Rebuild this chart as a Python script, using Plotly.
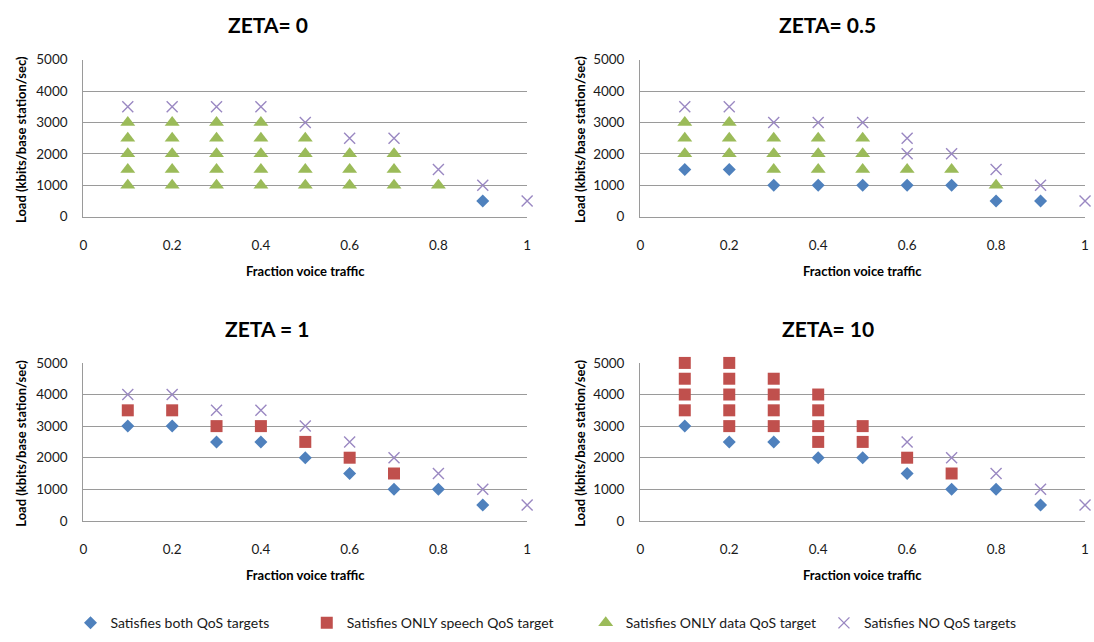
import plotly.graph_objects as go

W, H = 1094, 642

# ---- axis ticks and labels ----
x_ticks = [0, 0.2, 0.4, 0.6, 0.8, 1]
x_tick_text = ["0", "0.2", "0.4", "0.6", "0.8", "1"]
y_ticks = [0, 1000, 2000, 3000, 4000, 5000]
y_tick_text = ["0", "1000", "2000", "3000", "4000", "5000"]

panel_titles = ["ZETA= 0", "ZETA= 0.5", "ZETA = 1", "ZETA= 10"]
series_names = [
    "Satisfies both QoS targets",
    "Satisfies ONLY speech QoS target",
    "Satisfies ONLY data QoS target",
    "Satisfies NO QoS targets",
]

# ---- ZETA = 0 ----
z0_both_x = [0.9]
z0_both_y = [500]
z0_speech_x = []
z0_speech_y = []
z0_data_x = [0.1, 0.1, 0.1, 0.1, 0.1,
             0.2, 0.2, 0.2, 0.2, 0.2,
             0.3, 0.3, 0.3, 0.3, 0.3,
             0.4, 0.4, 0.4, 0.4, 0.4,
             0.5, 0.5, 0.5, 0.5,
             0.6, 0.6, 0.6,
             0.7, 0.7, 0.7,
             0.8]
z0_data_y = [1000, 1500, 2000, 2500, 3000,
             1000, 1500, 2000, 2500, 3000,
             1000, 1500, 2000, 2500, 3000,
             1000, 1500, 2000, 2500, 3000,
             1000, 1500, 2000, 2500,
             1000, 1500, 2000,
             1000, 1500, 2000,
             1000]
z0_none_x = [0.1, 0.2, 0.3, 0.4, 0.5, 0.6, 0.7, 0.8, 0.9, 1.0]
z0_none_y = [3500, 3500, 3500, 3500, 3000, 2500, 2500, 1500, 1000, 500]

# ---- ZETA = 0.5 ----
z05_both_x = [0.1, 0.2, 0.3, 0.4, 0.5, 0.6, 0.7, 0.8, 0.9]
z05_both_y = [1500, 1500, 1000, 1000, 1000, 1000, 1000, 500, 500]
z05_speech_x = []
z05_speech_y = []
z05_data_x = [0.1, 0.1, 0.1,
              0.2, 0.2, 0.2,
              0.3, 0.3, 0.3,
              0.4, 0.4, 0.4,
              0.5, 0.5, 0.5,
              0.6, 0.7, 0.8]
z05_data_y = [2000, 2500, 3000,
              2000, 2500, 3000,
              1500, 2000, 2500,
              1500, 2000, 2500,
              1500, 2000, 2500,
              1500, 1500, 1000]
z05_none_x = [0.1, 0.2, 0.3, 0.4, 0.5, 0.6, 0.6, 0.7, 0.8, 0.9, 1.0]
z05_none_y = [3500, 3500, 3000, 3000, 3000, 2500, 2000, 2000, 1500, 1000, 500]

# ---- ZETA = 1 ----
z1_both_x = [0.1, 0.2, 0.3, 0.4, 0.5, 0.6, 0.7, 0.8, 0.9]
z1_both_y = [3000, 3000, 2500, 2500, 2000, 1500, 1000, 1000, 500]
z1_speech_x = [0.1, 0.2, 0.3, 0.4, 0.5, 0.6, 0.7]
z1_speech_y = [3500, 3500, 3000, 3000, 2500, 2000, 1500]
z1_data_x = []
z1_data_y = []
z1_none_x = [0.1, 0.2, 0.3, 0.4, 0.5, 0.6, 0.7, 0.8, 0.9, 1.0]
z1_none_y = [4000, 4000, 3500, 3500, 3000, 2500, 2000, 1500, 1000, 500]

# ---- ZETA = 10 ----
z10_both_x = [0.1, 0.2, 0.3, 0.4, 0.5, 0.6, 0.7, 0.8, 0.9]
z10_both_y = [3000, 2500, 2500, 2000, 2000, 1500, 1000, 1000, 500]
z10_speech_x = [0.1, 0.1, 0.1, 0.1,
                0.2, 0.2, 0.2, 0.2, 0.2,
                0.3, 0.3, 0.3, 0.3,
                0.4, 0.4, 0.4, 0.4,
                0.5, 0.5,
                0.6, 0.7]
z10_speech_y = [3500, 4000, 4500, 5000,
                3000, 3500, 4000, 4500, 5000,
                3000, 3500, 4000, 4500,
                2500, 3000, 3500, 4000,
                2500, 3000,
                2000, 1500]
z10_data_x = []
z10_data_y = []
z10_none_x = [0.6, 0.7, 0.8, 0.9, 1.0]
z10_none_y = [2500, 2000, 1500, 1000, 500]

panels = [
    [(z0_both_x, z0_both_y), (z0_speech_x, z0_speech_y), (z0_data_x, z0_data_y), (z0_none_x, z0_none_y)],
    [(z05_both_x, z05_both_y), (z05_speech_x, z05_speech_y), (z05_data_x, z05_data_y), (z05_none_x, z05_none_y)],
    [(z1_both_x, z1_both_y), (z1_speech_x, z1_speech_y), (z1_data_x, z1_data_y), (z1_none_x, z1_none_y)],
    [(z10_both_x, z10_both_y), (z10_speech_x, z10_speech_y), (z10_data_x, z10_data_y), (z10_none_x, z10_none_y)],
]

# marker look for each series
markers = [
    dict(symbol="diamond", size=10, color="#4F81BD", line=dict(width=0)),
    dict(symbol="square", size=12, color="#C0504D", line=dict(width=0)),
    dict(symbol="triangle-up", size=13, color="#9BBB59", line=dict(width=0)),
    dict(symbol="x-thin", size=11, color="#9A88C2", line=dict(width=1.4, color="#9A88C2")),
]

# plot-area boxes in pixels: (left, right, top, bottom)
boxes = [
    (80, 527, 53, 214),
    (641, 1089, 53, 214),
    (80, 527, 364, 526),
    (641, 1089, 364, 526),
]
title_pos = [(266, 17), (830, 17), (265, 329), (830, 329)]
ytitle_x = [17, 580, 17, 580]
# left pixel of each legend entry's text along the bottom row
legend_text_left = [103, 341, 622, 862]

FONT = "Lato"
TICK_SIZE = 13.5
legend_ids = ["legend", "legend2", "legend3", "legend4"]

fig = go.Figure()

for s in range(4):
    shown = False
    for p in range(4):
        xs, ys = panels[p][s]
        axis_suffix = "" if p == 0 else str(p + 1)
        show = (not shown) and len(xs) > 0
        if show:
            shown = True
        fig.add_trace(go.Scatter(
            x=xs, y=ys, mode="markers",
            name=series_names[s], legendgroup=series_names[s],
            legend=legend_ids[s],
            showlegend=show,
            marker=markers[s],
            xaxis="x" + axis_suffix, yaxis="y" + axis_suffix,
            cliponaxis=False,
        ))

layout = dict(
    width=W, height=H,
    margin=dict(l=0, r=0, t=0, b=0),
    paper_bgcolor="white", plot_bgcolor="white",
    font=dict(family=FONT, size=12, color="#1a1a1a"),
    showlegend=True,
    annotations=[],
)

for s, lid in enumerate(legend_ids):
    layout[lid] = dict(
        orientation="h", x=(legend_text_left[s] - 36) / W, xanchor="left",
        y=1 - 631 / H, yanchor="middle",
        itemwidth=30,
        font=dict(family=FONT, size=14, color="#1a1a1a"),
        bgcolor="rgba(0,0,0,0)",
    )

for p, (l, r, t, b) in enumerate(boxes):
    suffix = "" if p == 0 else str(p + 1)
    layout["xaxis" + suffix] = dict(
        domain=[l / W, r / W], range=[0, 1],
        anchor="y" + suffix,
        tickvals=x_ticks, ticktext=x_tick_text,
        showgrid=False, zeroline=False,
        showline=True, linecolor="#9a9a9a", linewidth=1.3,
        ticks="", ticklabelstandoff=16,
        tickfont=dict(family=FONT, size=TICK_SIZE, color="#1a1a1a"),
        fixedrange=True,
    )
    layout["yaxis" + suffix] = dict(
        domain=[1 - b / H, 1 - t / H], range=[0, 5000],
        anchor="x" + suffix,
        tickvals=y_ticks, ticktext=y_tick_text,
        showgrid=True, gridcolor="#9a9a9a", gridwidth=1.3,
        zeroline=False,
        showline=True, linecolor="#9a9a9a", linewidth=1.3,
        ticks="", ticklabelstandoff=12,
        tickfont=dict(family=FONT, size=TICK_SIZE, color="#1a1a1a"),
        fixedrange=True,
    )
    # panel title
    tx, ty = title_pos[p]
    layout["annotations"].append(dict(
        text="<b>" + panel_titles[p] + "</b>", x=tx / W, y=1 - ty / H,
        xref="paper", yref="paper", xanchor="center", yanchor="middle",
        showarrow=False, font=dict(family=FONT, size=21, color="black"),
    ))
    # x axis title
    layout["annotations"].append(dict(
        text="<b>Fraction voice traffic</b>", x=(l + r) / 2 / W, y=1 - (b + 56) / H,
        xref="paper", yref="paper", xanchor="center", yanchor="middle",
        showarrow=False, font=dict(family=FONT, size=13, color="black"),
    ))
    # y axis title
    layout["annotations"].append(dict(
        text="<b>Load (kbits/base station/sec)</b>", x=ytitle_x[p] / W, y=1 - ((t + b) / 2 + 1) / H,
        xref="paper", yref="paper", xanchor="center", yanchor="middle",
        textangle=-90,
        showarrow=False, font=dict(family=FONT, size=13, color="black"),
    ))

fig.update_layout(**layout)
fig.write_html("out.html")
